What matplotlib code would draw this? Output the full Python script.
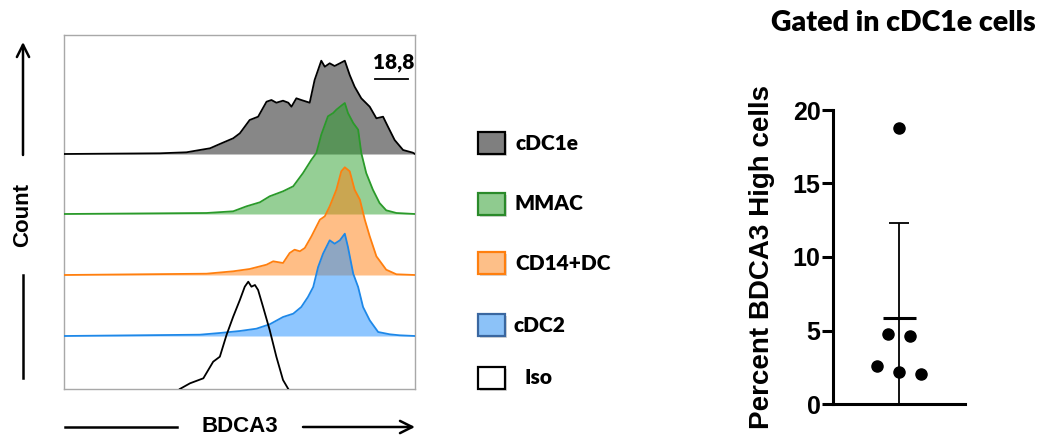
import numpy as np
import matplotlib
matplotlib.use("Agg")
import matplotlib.pyplot as plt
from matplotlib.patches import Rectangle

# ---------------- data ----------------
# BDCA3 intensity (0-100, display scale) and histogram counts (relative)
cdc1e_x = [0, 27.3, 34.9, 38.7, 41.6, 44.4, 48.2, 50.1, 52.9, 55.3, 57.7, 59.1, 60.5, 62.4, 63.9, 64.8,
           66.2, 67.6, 70.0, 71.4, 73.3, 74.3, 75.7, 77.1, 78.6, 80.0, 81.4, 82.8, 84.7, 87.1, 89.0,
           90.9, 92.3, 94.2, 96.6, 99.4, 100]
cdc1e_y = [0, 0.7, 1.7, 4, 5.7, 10, 15.7, 20.7, 34, 37.3, 52.3, 54, 51.3, 53.3, 51.3, 47.3,
           55.7, 54, 51.3, 74, 93.3, 87.3, 90.7, 88, 90.7, 93.3, 79, 67.3, 55.7, 47.3, 35.7,
           37.3, 27.3, 14, 4, 1.3, 0]

mmac_x = [0, 40.6, 48.2, 52.0, 55.8, 58.6, 62.4, 65.3, 68.1, 70.5, 71.9, 73.3, 75.2, 76.7, 77.6, 79.0,
          80.0, 80.9, 82.4, 83.8, 84.7, 86.1, 88.0, 89.9, 91.8, 94.7, 100]
mmac_y = [0, 1, 2.7, 7.7, 11.7, 17.7, 22.7, 27.7, 41, 54.3, 61, 79.3, 97.7, 101, 104.3, 108.3,
          111, 101, 91, 84.3, 61, 41, 24.3, 11, 3.7, 1, 0]

cd14_x = [0, 40.6, 48.2, 52.9, 57.7, 59.6, 62.4, 64.3, 65.7, 67.2, 68.6, 70.5, 72.9, 74.3, 75.7, 77.6,
          79.0, 80.0, 81.4, 82.8, 84.3, 85.7, 87.1, 89.0, 91.8, 94.7, 100]
cd14_y = [0, 1.3, 3.7, 6, 10.3, 13.7, 12, 22, 25.3, 23.7, 27, 38.7, 55.3, 58.7, 68.7, 85.3,
          103.7, 107.7, 103.7, 85.3, 75.3, 55.3, 38.7, 18.7, 5.3, 0.7, 0]

cdc2_x = [0, 38.7, 44.4, 50.1, 54.8, 58.6, 62.4, 65.3, 67.6, 69.5, 71.0, 72.4, 73.8, 75.7, 77.1, 78.6,
          80.0, 80.9, 82.4, 83.8, 85.2, 87.1, 89.5, 92.8, 95.6, 100]
cdc2_y = [0, 1.3, 3, 5, 7.3, 11.7, 19, 22.3, 29, 39, 49, 69, 82.3, 95.7, 92.3, 95.7,
          102.3, 89, 62.3, 49, 29, 15.7, 4, 1.7, 0.7, 0]

iso_x = [33.0, 35.9, 39.7, 42.5, 44.4, 46.3, 48.2, 50.1, 51.5, 52.5, 53.4, 54.4, 55.3, 56.7, 58.6,
         60.5, 62.4, 63.9]
iso_y = [0, 5.7, 10.7, 27.3, 32.3, 54, 72.3, 89, 102.3, 107.3, 102.3, 104, 99, 82.3, 59,
         32.3, 9, 0]

populations = ["cDC1e", "MMAC", "CD14+DC", "cDC2", "Iso"]
gate_value = "18,8"

# Percent BDCA3 high cells, gated in cDC1e cells
pct_high = [18.8, 4.74, 4.65, 2.59, 2.15, 2.02]

# ---------------- figure ----------------
W, H = 1044, 441
fig = plt.figure(figsize=(W / 100, H / 100), dpi=100)
fig.patch.set_facecolor("white")

arial = ["Liberation Sans", "DejaVu Sans"]
cal = ["Lato", "DejaVu Sans"]

# histogram panel
ax = fig.add_axes([64 / W, 1 - 389 / H, 351 / W, 354 / H])
ax.set_xlim(0, 100)
ax.set_ylim(0, 354)
ax.set_xticks([])
ax.set_yticks([])
for s in ax.spines.values():
    s.set_color("#a8a8a8")
    s.set_linewidth(1.0)

stack = [
    (cdc1e_x, cdc1e_y, 235, "#878787", 1.0, "black"),
    (mmac_x, mmac_y, 175, "#2ca02c", 0.5, "#2a9a2a"),
    (cd14_x, cd14_y, 114, "#ff7f0e", 0.5, "#ff7f0e"),
    (cdc2_x, cdc2_y, 53, "#1e8fff", 0.5, "#1e88e8"),
]
z = 2
for xs, ys, base, fc, al, ec in stack:
    xs = np.array(xs)
    ys = np.array(ys) + base
    ax.fill_between(xs, base, ys, color=fc, alpha=al, lw=0, zorder=z)
    ax.plot(xs, ys, color=ec, lw=1.3, zorder=z + 1, solid_joinstyle="round")
    z += 2
ax.plot(iso_x, iso_y, color="black", lw=1.3, zorder=z + 1, clip_on=True)

# overlay in pixel coordinates for annotations
ov = fig.add_axes([0, 0, 1, 1])
ov.set_xlim(0, W)
ov.set_ylim(H, 0)
ov.axis("off")

ap = dict(arrowstyle="->", lw=1.8, color="black", mutation_scale=22, shrinkA=0, shrinkB=0)
ov.annotate("", xy=(23, 42), xytext=(23, 155), arrowprops=ap)
ov.plot([23, 23], [378, 275], color="black", lw=1.8)
ov.text(23, 215, "Count", rotation=90, ha="center", va="center", fontsize=16,
        fontweight="bold", family=arial)
ov.plot([65, 177], [427, 427], color="black", lw=1.8)
ov.annotate("", xy=(415, 427), xytext=(303, 427), arrowprops=ap)
ov.text(240, 427, "BDCA3", ha="center", va="center", fontsize=16, fontweight="bold", family=arial)

ov.text(394, 63, gate_value, ha="center", va="center", fontsize=15, fontweight="heavy", family=cal)
ov.plot([375, 408], [79, 79], color="black", lw=1.3)

# legend
leg_fc = ["#7f7f7f", "#8fcb8f", "#fdbf88", "#8cc2f8", "white"]
leg_ec = ["black", "#2a8a2a", "#ff7f0e", "#3a67a0", "black"]
leg_y = [143, 204, 263, 325, 378]
leg_tx = [515, 515, 515, 513, 525]
for name, fc, ec, yc, tx in zip(populations, leg_fc, leg_ec, leg_y, leg_tx):
    ov.add_patch(Rectangle((480, yc - 9), 27, 22, facecolor="#d8d8d8", edgecolor="none", zorder=1))
    ov.add_patch(Rectangle((478, yc - 11), 27, 22, facecolor=fc, edgecolor=ec, lw=1.6, zorder=2))
    ov.text(tx, yc, name, ha="left", va="center", fontsize=15, fontweight="heavy", family=cal)

# dot plot panel
ax2 = fig.add_axes([833 / W, (H - 404) / H, 132 / W, 294 / H])
ax2.set_xlim(-1, 1)
ax2.set_ylim(0, 20)
for side in ["top", "right"]:
    ax2.spines[side].set_visible(False)
for side in ["left", "bottom"]:
    ax2.spines[side].set_linewidth(2.2)
ax2.set_xticks([])
ax2.set_yticks([0, 5, 10, 15, 20])
ax2.tick_params(axis="y", length=8, width=2.2, pad=1, labelsize=18)
for lab in ax2.get_yticklabels():
    lab.set_fontweight("bold")
    lab.set_family(arial)
ax2.set_ylabel("Percent BDCA3 High cells", fontsize=20, fontweight="bold", family=arial, labelpad=13)

vals = np.array(pct_high)
jitter = [0, -0.167, 0.167, -0.33, 0, 0.33]
ax2.plot(jitter, vals, "o", color="black", ms=8, clip_on=False, zorder=4)
m = vals.mean()
sd = vals.std(ddof=1)
ax2.errorbar([0], [m], yerr=[sd], fmt="none", ecolor="black", elinewidth=1.3,
             capsize=7, capthick=1.3, zorder=3)
ax2.hlines(m, -0.25, 0.25, color="black", lw=2.2, zorder=3)

fig.text(903 / W, 1 - 23 / H, "Gated in cDC1e cells", ha="center", va="center",
         fontsize=20.5, fontweight="heavy", family=cal)

fig.savefig("out.png", dpi=100)
